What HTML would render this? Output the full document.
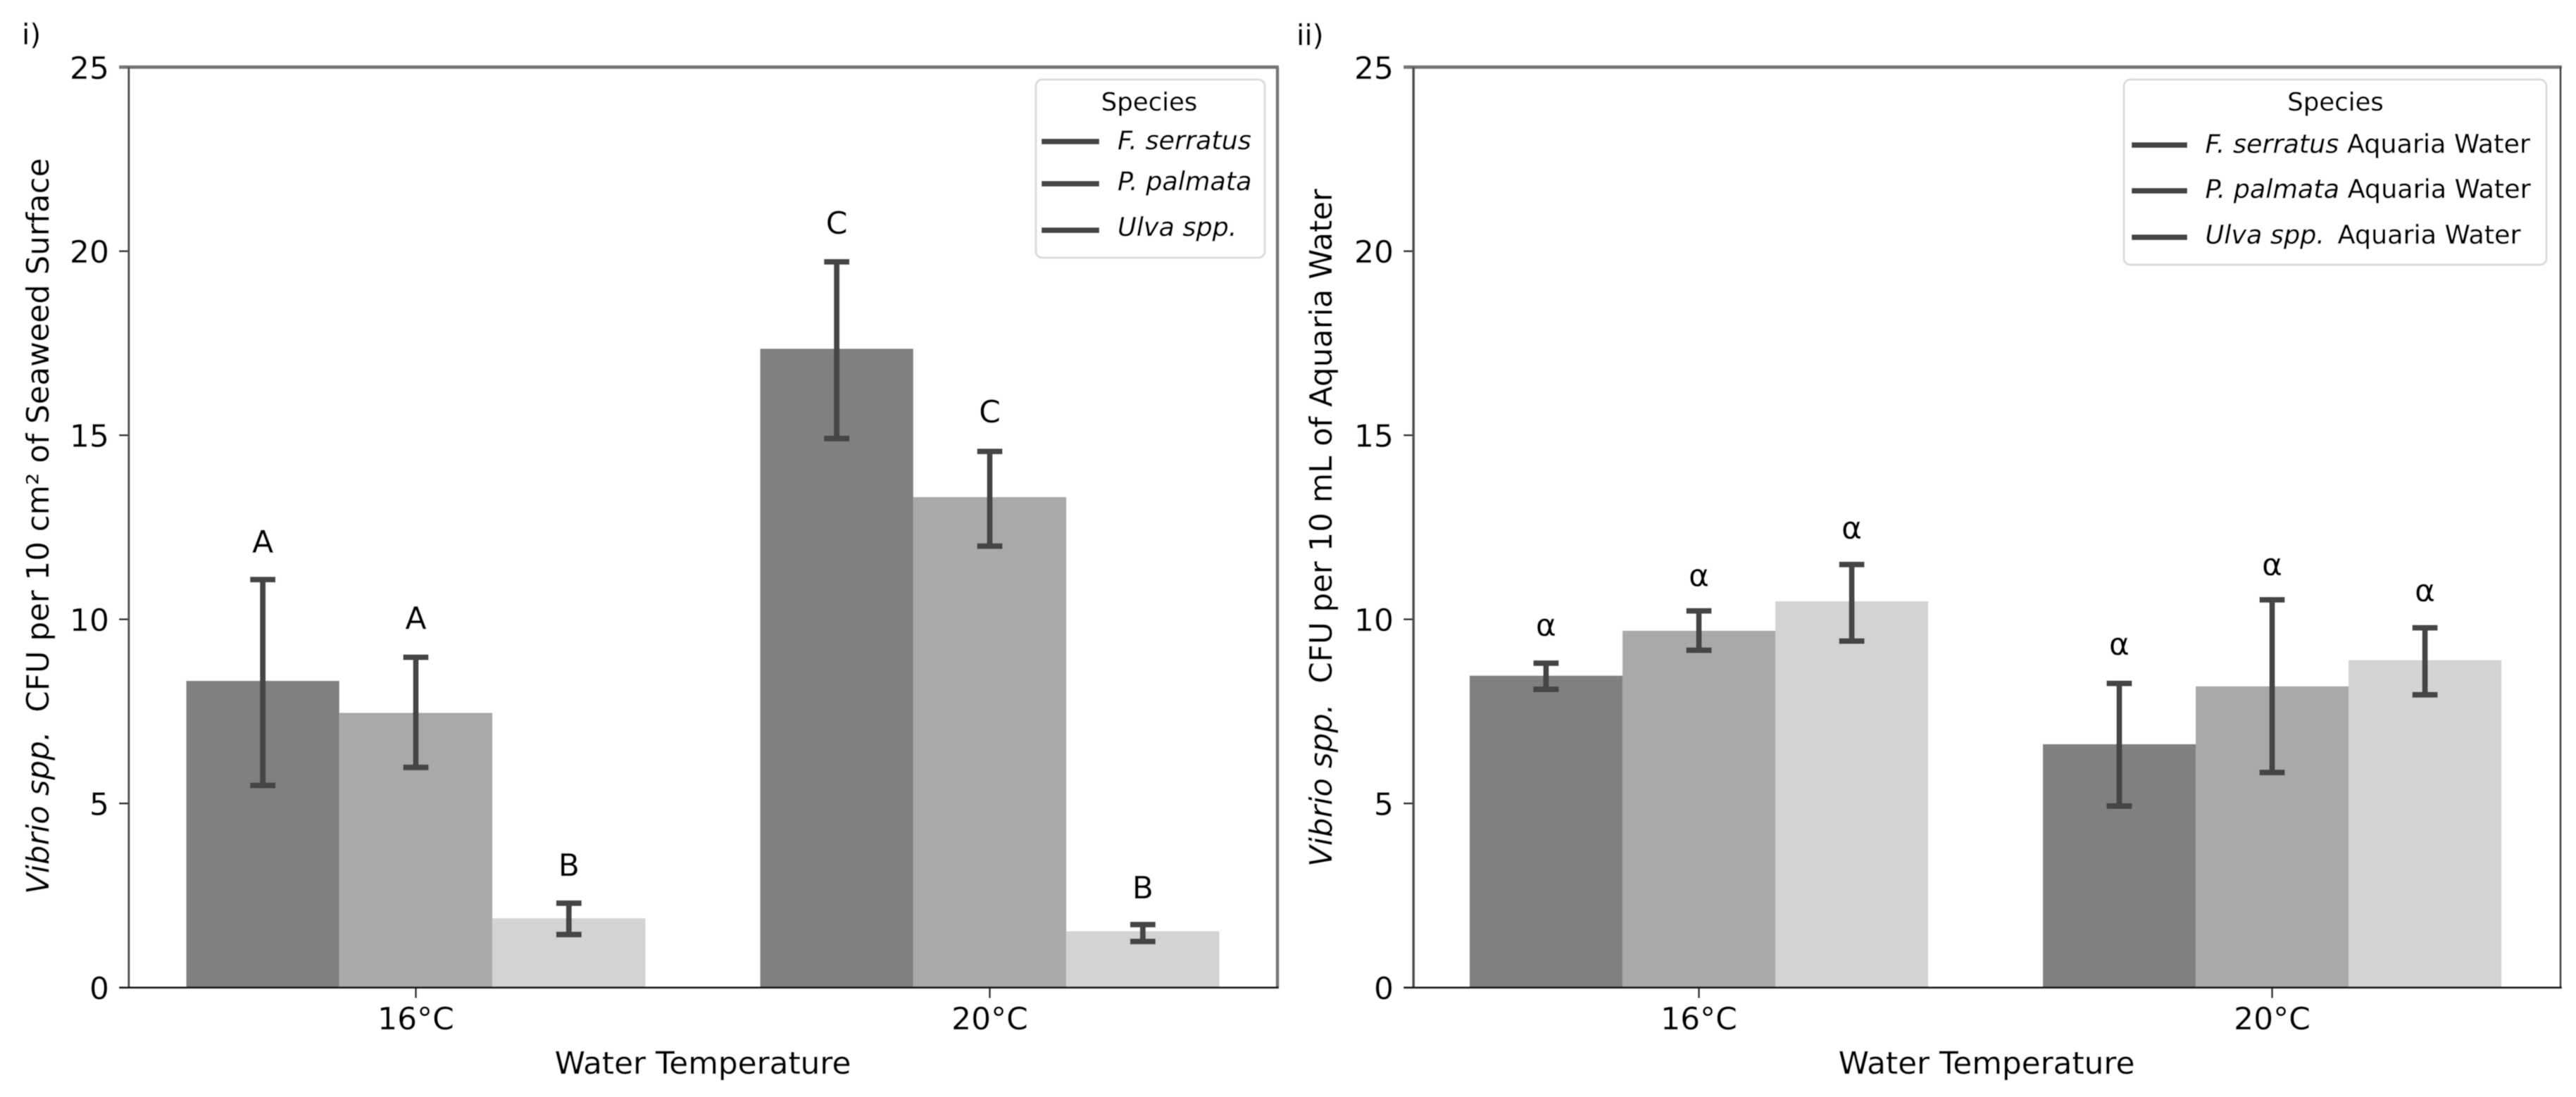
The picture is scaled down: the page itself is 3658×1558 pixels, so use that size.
<!DOCTYPE html>
<html lang="en">
<head>
<meta charset="utf-8">
<title>Vibrio spp. CFU on seaweed surfaces and in aquaria water</title>
<style>
html,body{margin:0;padding:0;background:#fff;width:3658px;height:1558px;overflow:hidden}
svg{display:block}
text{font-family:"DejaVu Sans","Liberation Sans",sans-serif;fill:#000;stroke:#000;stroke-width:0.35px}
.i{font-style:italic}
</style>
</head>
<body>
<svg id="fig" xmlns="http://www.w3.org/2000/svg" width="3658" height="1558" viewBox="0 0 3658 1558">
  <defs><filter id="soft" x="0" y="0" width="100%" height="100%" filterUnits="objectBoundingBox"><feGaussianBlur stdDeviation="0.6"/></filter></defs>
  <g id="root" filter="url(#soft)">
    <rect x="0" y="0" width="3658" height="1558" fill="#fff"/>
    <g id="panel-a"></g>
    <g id="panel-b"></g>

    <text x="31" y="63" font-size="41">i)</text>
    <text x="1841" y="64" font-size="41">ii)</text>

    <text transform="rotate(-90 69 1270)" x="69" y="1270" font-size="43.5"><tspan class="i">Vibrio spp.</tspan><tspan dx="13"> CFU per 10 cm² of Seaweed Surface</tspan></text>
    <text transform="rotate(-90 1891 1231)" x="1891" y="1231" font-size="43.5"><tspan class="i">Vibrio spp.</tspan><tspan dx="15"> CFU per 10 mL of Aquaria Water</tspan></text>

    <text x="998" y="1525" font-size="43.8" text-anchor="middle">Water Temperature</text>
    <text x="2821" y="1525" font-size="43.8" text-anchor="middle">Water Temperature</text>

    <g>
      <rect x="1471" y="113" width="325" height="253" rx="9" fill="#fff" stroke="#dcdcdc" stroke-width="3"/>
      <text x="1632" y="157" font-size="35.5" text-anchor="middle">Species</text>
      <rect x="1479" y="197" width="82" height="8" fill="#444"/>
      <text x="1587" y="212" font-size="36.5" class="i">F. serratus</text>
      <rect x="1479" y="257" width="82" height="8" fill="#444"/>
      <text x="1587" y="270" font-size="36.5" class="i">P. palmata</text>
      <rect x="1479" y="323" width="82" height="8" fill="#444"/>
      <text x="1587" y="335" font-size="36.5" class="i">Ulva spp.</text>
    </g>

    <g>
      <rect x="3016" y="113" width="600" height="263" rx="9" fill="#fff" stroke="#dcdcdc" stroke-width="3"/>
      <text x="3316.5" y="157" font-size="35.5" text-anchor="middle">Species</text>
      <rect x="3027" y="202" width="79" height="8" fill="#444"/>
      <text x="3131.5" y="217" font-size="36.5"><tspan class="i">F. serratus</tspan> Aquaria Water</text>
      <rect x="3027" y="267" width="79" height="8" fill="#444"/>
      <text x="3131.5" y="281" font-size="36.5"><tspan class="i">P. palmata</tspan> Aquaria Water</text>
      <rect x="3027" y="333" width="79" height="8" fill="#444"/>
      <text x="3131.5" y="346" font-size="36.5"><tspan class="i">Ulva spp.</tspan><tspan dx="7"> Aquaria Water</tspan></text>
    </g>
  </g>
</svg>
<script>
const categories = ['16°C', '20°C'];
const speciesFills = ['#808080', '#a9a9a9', '#d3d3d3'];
const yTicks = [0, 5, 10, 15, 20, 25];
const yMax = 25;

// Panel i: one row per temperature, one column per species
const surfaceMeans = [[8.33, 7.46, 1.88], [17.35, 13.32, 1.53]];
const surfaceErrHigh = [[11.08, 8.97, 2.29], [19.71, 14.56, 1.71]];
const surfaceErrLow = [[5.49, 5.98, 1.44], [14.91, 11.99, 1.25]];
const surfaceLetters = [['A', 'A', 'B'], ['C', 'C', 'B']];
const surfaceLetterY = [[11.82, 9.74, 3.03], [20.47, 15.35, 2.42]];

// Panel ii
const waterMeans = [[8.47, 9.69, 10.49], [6.61, 8.18, 8.89]];
const waterErrHigh = [[8.81, 10.23, 11.49], [8.26, 10.53, 9.77]];
const waterErrLow = [[8.10, 9.16, 9.41], [4.93, 5.84, 7.95]];
const waterLetters = [['α', 'α', 'α'], ['α', 'α', 'α']];
const waterLetterY = [[9.55, 10.90, 12.19], [9.04, 11.20, 10.49]];

const NS = 'http://www.w3.org/2000/svg';
const Y0 = 1402.5, YTOP = 95.3;
const yScale = v => Y0 - (v / yMax) * (Y0 - YTOP);

function mk(parent, tag, attrs, txt) {
  const el = document.createElementNS(NS, tag);
  for (const k in attrs) el.setAttribute(k, attrs[k]);
  if (txt !== undefined) el.textContent = txt;
  parent.appendChild(el);
  return el;
}

function drawPanel(g, frame, means, hi, lo, letters, letterY) {
  const xScale = i => frame.c0 + frame.step * i;
  const bw = frame.step * 0.8 / 3;

  categories.forEach((cat, i) => {
    means[i].forEach((v, s) => {
      const cx = xScale(i) + (s - 1) * bw;
      const bar = mk(g, 'rect', {x: cx - bw / 2, y: yScale(v), width: bw, height: Y0 - yScale(v), fill: speciesFills[s]});
      
      
    });
  });

  categories.forEach((cat, i) => {
    means[i].forEach((v, s) => {
      const cx = xScale(i) + (s - 1) * bw;
      const stem = mk(g, 'line', {x1: cx, x2: cx, y1: yScale(hi[i][s]), y2: yScale(lo[i][s]), stroke: '#444', 'stroke-width': 8});
      
      
      const capTop = mk(g, 'line', {x1: cx - 18, x2: cx + 18, y1: yScale(hi[i][s]), y2: yScale(hi[i][s]), stroke: '#444', 'stroke-width': 8});
      
      
      const capLow = mk(g, 'line', {x1: cx - 18, x2: cx + 18, y1: yScale(lo[i][s]), y2: yScale(lo[i][s]), stroke: '#444', 'stroke-width': 8});
      
      
      const letter = mk(g, 'text', {x: cx, y: yScale(letterY[i][s]), 'font-size': 44, 'text-anchor': 'middle'}, letters[i][s]);
      
      
    });
  });

  yTicks.forEach(t => {
    const y = yScale(t);
    const tick = mk(g, 'line', {x1: frame.left - 14, x2: frame.left, y1: y, y2: y, stroke: '#333', 'stroke-width': 2.8});
    
    
    const lab = mk(g, 'text', {x: frame.left - 28, y: y + 16.5, 'font-size': 44, 'text-anchor': 'end'}, String(t));
    
    
  });

  categories.forEach((cat, i) => {
    const x = xScale(i);
    const tick = mk(g, 'line', {x1: x, x2: x, y1: Y0, y2: Y0 + 15, stroke: '#333', 'stroke-width': 2.8});
    
    
    const lab = mk(g, 'text', {x: x, y: 1462, 'font-size': 44, 'text-anchor': 'middle'}, cat);
    
    
  });

  const top = mk(g, 'rect', {x: frame.left - 14, y: YTOP - 2.5, width: frame.right - frame.left + 16, height: 5, fill: '#757575'});
  
  
  const left = mk(g, 'rect', {x: frame.left - 1.7, y: YTOP, width: frame.leftW, height: Y0 - YTOP, fill: '#505050'});
  
  
  const right = mk(g, 'rect', {x: frame.right - frame.rightW / 2, y: YTOP, width: frame.rightW, height: Y0 - YTOP, fill: frame.rightFill});
  
  
  const bottom = mk(g, 'rect', {x: frame.left - 14, y: Y0 - 1.5, width: frame.right - frame.left + 16, height: 3.2, fill: '#1c1c1c'});
  
  
}

drawPanel(document.getElementById('panel-a'),
  {left: 183, right: 1814, c0: 590.5, step: 815, leftW: 3.2, rightW: 4.5, rightFill: '#757575'},
  surfaceMeans, surfaceErrHigh, surfaceErrLow, surfaceLetters, surfaceLetterY);
drawPanel(document.getElementById('panel-b'),
  {left: 2007, right: 3636, c0: 2412.5, step: 814, leftW: 3.8, rightW: 3, rightFill: '#4a4a4a'},
  waterMeans, waterErrHigh, waterErrLow, waterLetters, waterLetterY);
</script>
</body>
</html>
